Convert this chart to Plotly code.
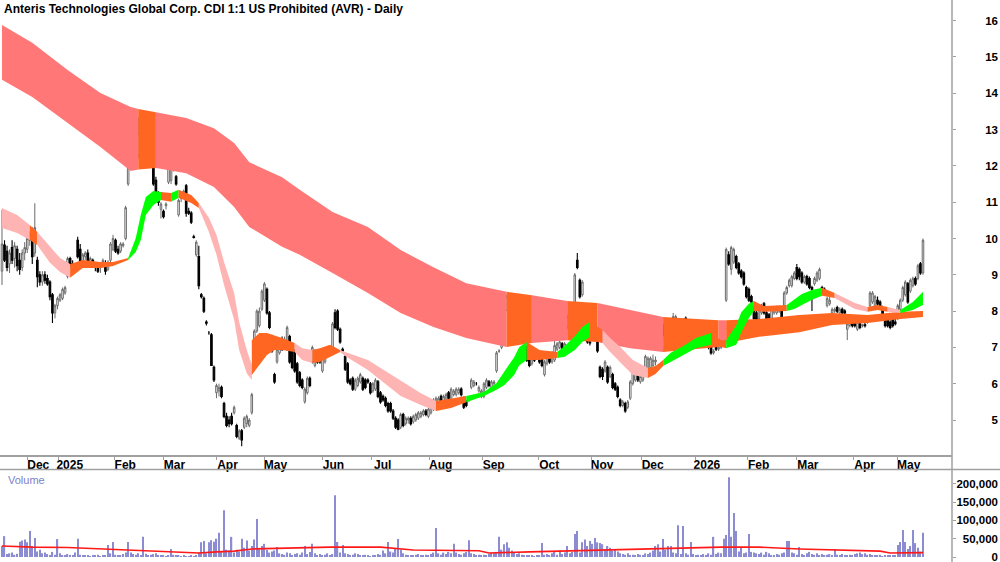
import plotly.graph_objects as go

# ---------------- daily price data (trading-day index 0..365) ----------------
open_ = [
 9.10, 9.82, 9.65, 9.30, 9.75, 9.45, 9.70, 9.40, 9.20, 9.60,
 9.70, 9.95, 10.10, 9.60, 9.40, 9.00, 8.80, 9.00, 8.90, 8.80,
 8.45, 7.95, 8.15, 8.30, 8.35, 8.50, 8.95, 9.45, 9.30, 9.20,
 9.95, 9.70, 9.35, 9.50, 9.60, 9.30, 9.40, 9.30, 9.25, 9.20,
 9.25, 9.30, 9.15, 9.40, 9.70, 9.95, 9.70, 9.65, 9.80, 10.00,
 11.50, 12.90, 12.80, 12.35, 12.30, 12.80, 12.50, 12.80, 12.60, 12.75,
 11.95, 11.60, 11.10, 10.80, 10.75, 10.90, 11.55, 11.60, 12.00, 11.70,
 10.65, 11.10, 11.20, 11.45, 10.75, 10.70, 10.05, 9.55, 9.50, 8.45,
 8.35, 7.70, 7.40, 7.35, 6.45, 5.75, 5.80, 5.90, 5.45, 5.10,
 5.00, 5.10, 5.20, 4.85, 4.50, 4.70, 4.80, 4.90, 4.85, 5.20,
 6.55, 7.45, 7.60, 8.05, 8.30, 8.60, 7.95, 7.30, 6.25, 6.60,
 6.85, 7.15, 7.00, 6.95, 7.30, 7.00, 6.90, 6.55, 6.30, 6.10,
 5.50, 5.75, 6.15, 6.60, 6.50, 6.75, 6.70, 6.35, 6.60, 6.85,
 6.90, 7.00, 7.95, 8.00, 7.50, 6.95, 6.75, 6.55, 6.10, 6.15,
 5.85, 5.95, 6.05, 6.15, 6.10, 6.10, 6.00, 5.80, 5.85, 6.05,
 5.75, 5.65, 5.60, 5.45, 5.45, 5.25, 5.05, 5.00, 4.80, 5.15,
 4.90, 5.00, 5.05, 4.95, 5.00, 5.05, 5.10, 5.15, 5.25, 5.10,
 5.20, 5.30, 5.35, 5.40, 5.65, 5.50, 5.50, 5.75, 5.60, 5.70,
 5.70, 5.75, 5.85, 5.60, 5.50, 5.55, 5.90, 5.95, 6.00, 5.80,
 5.65, 5.65, 5.90, 6.05, 5.90, 6.00, 6.35, 6.90, 7.00, 7.40,
 8.03, 8.10, 8.30, 8.05, 8.35, 8.20, 7.95, 7.55, 7.00, 6.80,
 6.55, 6.85, 6.80, 6.85, 6.75, 6.25, 6.55, 6.80, 6.60, 6.65,
 6.95, 7.00, 7.10, 6.90, 7.55, 7.70, 7.60, 7.95, 9.40, 8.85,
 8.45, 8.10, 7.55, 7.15, 7.60, 7.60, 7.15, 6.45, 6.40, 6.35,
 6.45, 6.20, 6.25, 6.00, 5.90, 5.55, 5.40, 5.45, 5.35, 5.60,
 6.00, 6.10, 6.35, 6.05, 6.10, 6.35, 6.40, 6.45, 6.50, 6.60,
 7.10, 7.70, 7.60, 7.50, 7.25, 7.35, 7.55, 7.60, 7.05, 7.35,
 7.55, 7.80, 7.60, 7.55, 7.65, 7.45, 7.40, 7.25, 7.25, 7.20,
 7.15, 7.00, 6.85, 7.20, 6.95, 7.00, 7.10, 8.30, 9.55, 9.15,
 9.35, 9.50, 9.30, 9.10, 9.05, 8.65, 8.60, 8.40, 8.10, 7.95,
 7.80, 7.95, 8.20, 7.95, 7.90, 7.80, 7.95, 7.95, 8.00, 8.05,
 8.15, 8.50, 8.70, 8.70, 8.90, 9.20, 9.15, 9.05, 8.80, 8.95,
 8.90, 8.65, 8.75, 8.85, 8.90, 8.65, 8.60, 8.15, 8.20, 7.95,
 8.00, 8.10, 7.95, 8.05, 8.00, 7.50, 7.60, 7.75, 7.70, 7.50,
 7.65, 7.60, 7.62, 7.70, 8.15, 8.25, 8.15, 8.30, 8.25, 8.10,
 7.85, 7.75, 7.70, 7.85, 7.70, 7.80, 8.05, 8.30, 8.45, 8.75,
 8.55, 8.70, 8.90, 8.90, 9.30, 9.05]

high = [
 10.79, 9.95, 9.80, 9.70, 9.95, 9.90, 9.80, 9.60, 9.70, 9.90,
 10.10, 10.20, 10.30, 10.97, 9.50, 9.10, 9.10, 9.10, 9.00, 8.85,
 8.50, 8.20, 8.40, 8.50, 8.65, 8.70, 9.50, 9.50, 9.40, 9.30,
 10.05, 9.85, 9.60, 9.65, 9.70, 9.50, 9.45, 9.35, 9.30, 9.35,
 9.45, 9.40, 9.40, 9.90, 10.10, 10.00, 9.80, 9.90, 9.90, 10.90,
 13.20, 13.00, 13.10, 12.50, 13.35, 12.90, 12.70, 12.90, 12.80, 12.85,
 12.00, 11.70, 11.30, 11.00, 10.80, 11.00, 12.15, 12.20, 12.10, 11.75,
 11.10, 11.30, 11.35, 11.50, 10.85, 10.75, 10.10, 9.95, 9.80, 8.50,
 8.40, 7.75, 7.45, 7.40, 6.50, 6.00, 6.00, 5.95, 5.50, 5.20,
 5.10, 5.20, 5.40, 4.90, 4.75, 4.75, 5.10, 5.15, 5.05, 5.75,
 7.50, 8.05, 8.10, 8.60, 8.80, 8.65, 8.00, 7.35, 6.30, 7.00,
 7.20, 7.30, 7.30, 7.60, 7.35, 7.05, 6.95, 6.60, 6.35, 6.15,
 5.90, 6.20, 6.20, 7.05, 6.95, 6.80, 6.75, 6.75, 6.95, 7.00,
 7.05, 7.70, 8.05, 8.05, 7.55, 7.00, 6.80, 6.60, 6.15, 6.20,
 6.15, 6.20, 6.30, 6.20, 6.15, 6.15, 6.05, 6.05, 6.15, 6.10,
 5.80, 5.70, 5.65, 5.50, 5.50, 5.30, 5.10, 5.05, 5.20, 5.20,
 5.10, 5.10, 5.10, 5.15, 5.20, 5.25, 5.25, 5.30, 5.30, 5.35,
 5.40, 5.60, 5.65, 5.65, 5.70, 5.70, 5.75, 5.80, 5.90, 5.85,
 5.90, 5.90, 5.90, 5.65, 5.55, 5.60, 6.15, 6.10, 6.05, 5.95,
 5.85, 6.05, 6.15, 6.10, 6.10, 6.10, 6.90, 6.95, 7.45, 7.70,
 8.45, 8.40, 8.40, 8.35, 8.40, 8.25, 8.00, 7.60, 7.05, 6.85,
 6.75, 6.90, 6.85, 6.90, 6.80, 6.65, 6.85, 6.85, 6.90, 7.35,
 7.15, 7.20, 7.15, 7.15, 7.90, 7.75, 7.65, 9.05, 9.60, 8.90,
 8.85, 8.15, 7.60, 7.20, 8.05, 7.65, 7.20, 6.50, 6.45, 6.65,
 6.50, 6.50, 6.30, 6.05, 5.95, 5.60, 5.55, 5.50, 5.55, 6.10,
 6.35, 6.40, 6.40, 6.25, 6.40, 6.80, 6.75, 6.75, 6.80, 6.75,
 7.65, 7.80, 7.65, 7.60, 7.30, 7.80, 7.95, 7.90, 7.15, 7.80,
 7.80, 7.85, 7.65, 7.75, 7.70, 7.50, 7.45, 7.40, 7.40, 7.25,
 7.20, 7.05, 6.95, 7.25, 7.05, 7.35, 7.40, 9.75, 9.65, 9.80,
 9.75, 9.55, 9.35, 9.15, 9.10, 8.70, 8.65, 8.45, 8.15, 8.00,
 8.10, 8.20, 8.25, 8.00, 7.95, 8.10, 8.10, 8.15, 8.15, 8.10,
 8.55, 8.70, 8.90, 9.00, 9.10, 9.30, 9.20, 9.10, 9.00, 9.00,
 8.95, 8.70, 8.95, 9.10, 9.20, 8.70, 8.65, 8.40, 8.45, 8.10,
 8.10, 8.15, 8.10, 8.10, 8.05, 7.70, 7.80, 7.80, 7.75, 7.75,
 7.70, 7.65, 7.68, 7.85, 8.55, 8.55, 8.45, 8.40, 8.30, 8.15,
 7.90, 7.80, 7.75, 7.90, 7.80, 8.20, 8.35, 8.70, 8.85, 8.80,
 8.90, 8.95, 8.95, 9.30, 9.35, 10.00]

low = [
 8.72, 9.35, 9.10, 9.05, 9.30, 9.20, 9.10, 9.00, 9.10, 9.40,
 9.60, 9.80, 9.30, 9.50, 8.66, 8.70, 8.70, 8.75, 8.70, 8.30,
 7.67, 7.80, 8.05, 8.25, 8.30, 8.45, 8.90, 9.20, 9.10, 9.05,
 9.45, 9.30, 9.30, 9.40, 9.20, 9.25, 9.20, 9.10, 9.05, 9.05,
 9.20, 9.00, 9.10, 9.35, 9.65, 9.60, 9.55, 9.60, 9.75, 9.95,
 11.45, 12.60, 12.30, 11.90, 12.20, 12.40, 12.40, 12.50, 12.50, 12.50,
 11.45, 11.05, 10.90, 10.55, 10.55, 10.80, 11.50, 11.50, 11.85, 11.45,
 10.60, 11.00, 11.10, 10.60, 10.65, 10.40, 10.00, 9.50, 8.60, 8.35,
 7.95, 7.60, 7.35, 6.50, 6.05, 5.60, 5.65, 5.60, 5.05, 4.80,
 4.80, 4.85, 5.15, 4.50, 4.45, 4.28, 4.75, 4.80, 4.80, 5.15,
 6.50, 7.40, 7.55, 8.00, 8.25, 7.90, 7.50, 6.85, 6.00, 6.55,
 6.80, 6.90, 6.95, 6.90, 6.55, 6.40, 6.30, 6.00, 5.90, 5.85,
 5.45, 5.70, 5.90, 6.55, 6.45, 6.55, 6.55, 6.30, 6.55, 6.80,
 6.85, 6.95, 7.50, 7.45, 7.10, 6.85, 6.35, 6.00, 5.95, 5.80,
 5.80, 5.90, 6.00, 5.80, 5.85, 6.00, 5.70, 5.75, 5.80, 5.60,
 5.45, 5.50, 5.35, 5.20, 5.20, 5.00, 4.75, 4.72, 4.75, 4.80,
 4.85, 4.90, 4.85, 4.90, 4.95, 5.00, 5.05, 5.10, 5.10, 5.05,
 5.15, 5.25, 5.30, 5.35, 5.45, 5.45, 5.45, 5.55, 5.55, 5.65,
 5.65, 5.70, 5.65, 5.30, 5.35, 5.50, 5.85, 5.90, 5.95, 5.75,
 5.60, 5.60, 5.85, 5.90, 5.85, 5.90, 6.30, 6.85, 6.95, 7.30,
 8.00, 8.00, 8.00, 8.00, 8.05, 7.90, 7.70, 7.10, 6.60, 6.45,
 6.50, 6.60, 6.65, 6.55, 6.45, 6.20, 6.50, 6.55, 6.55, 6.60,
 6.90, 6.95, 6.90, 6.85, 7.50, 7.45, 7.15, 7.90, 9.15, 8.35,
 8.40, 7.45, 7.10, 7.05, 7.55, 7.20, 6.85, 6.15, 6.10, 6.30,
 6.00, 6.15, 5.85, 5.80, 5.60, 5.35, 5.35, 5.20, 5.30, 5.55,
 5.95, 6.05, 6.05, 6.00, 6.05, 6.30, 6.35, 6.40, 6.45, 6.50,
 7.05, 7.30, 7.30, 7.15, 6.90, 7.30, 7.50, 7.55, 7.00, 7.30,
 7.50, 7.35, 7.30, 7.50, 7.35, 7.20, 7.20, 7.20, 7.20, 7.00,
 6.95, 6.80, 6.80, 6.90, 6.90, 6.95, 7.05, 8.25, 9.25, 9.00,
 9.30, 9.15, 9.00, 8.90, 8.70, 8.35, 8.25, 8.20, 7.75, 7.35,
 7.75, 7.90, 7.90, 7.70, 7.75, 7.75, 7.90, 7.90, 7.95, 7.40,
 8.10, 8.45, 8.65, 8.65, 8.85, 8.85, 8.85, 8.75, 8.75, 8.70,
 8.60, 8.00, 8.70, 8.80, 8.85, 8.45, 8.50, 8.10, 8.15, 7.90,
 7.95, 7.95, 7.90, 7.90, 7.90, 7.20, 7.55, 7.55, 7.55, 7.45,
 7.50, 7.55, 7.55, 7.65, 8.10, 8.20, 8.10, 8.15, 8.05, 7.80,
 7.55, 7.55, 7.50, 7.55, 7.60, 7.75, 8.00, 8.25, 8.40, 8.20,
 8.50, 8.65, 8.70, 8.85, 9.00, 9.00]

close = [
 9.85, 9.40, 9.20, 9.60, 9.40, 9.80, 9.25, 9.15, 9.60, 9.75,
 10.00, 10.10, 9.50, 10.30, 8.95, 8.80, 9.00, 8.85, 8.75, 8.40,
 7.95, 8.15, 8.35, 8.45, 8.60, 8.65, 9.45, 9.30, 9.15, 9.10,
 9.50, 9.35, 9.55, 9.60, 9.25, 9.45, 9.25, 9.20, 9.10, 9.30,
 9.40, 9.10, 9.35, 9.85, 10.00, 9.65, 9.60, 9.85, 9.85, 10.85,
 12.90, 12.70, 12.40, 12.00, 12.90, 12.50, 12.60, 12.55, 12.75, 12.60,
 11.50, 11.10, 11.00, 10.95, 10.60, 10.95, 12.05, 12.10, 11.90, 11.50,
 11.05, 11.25, 11.30, 10.70, 10.70, 10.45, 10.03, 9.90, 8.70, 8.40,
 8.00, 7.67, 7.40, 6.50, 6.10, 5.95, 5.90, 5.65, 5.10, 4.85,
 4.90, 4.90, 5.35, 4.55, 4.70, 4.45, 5.05, 5.10, 5.00, 5.70,
 7.45, 8.00, 8.00, 8.55, 8.75, 7.95, 7.55, 6.90, 6.05, 6.95,
 7.15, 7.00, 7.20, 7.55, 6.60, 6.45, 6.35, 6.05, 5.95, 5.90,
 5.85, 6.15, 5.95, 7.00, 6.90, 6.60, 6.60, 6.70, 6.90, 6.95,
 7.00, 7.65, 7.55, 7.50, 7.15, 6.90, 6.40, 6.05, 6.00, 5.85,
 6.10, 6.15, 6.25, 5.85, 5.90, 6.05, 5.75, 6.00, 6.10, 5.65,
 5.50, 5.55, 5.40, 5.25, 5.25, 5.05, 4.80, 4.75, 5.15, 4.85,
 5.05, 5.05, 4.90, 5.10, 5.15, 5.20, 5.20, 5.25, 5.15, 5.30,
 5.35, 5.55, 5.60, 5.60, 5.50, 5.65, 5.70, 5.60, 5.85, 5.80,
 5.85, 5.85, 5.70, 5.35, 5.40, 5.55, 6.10, 6.05, 6.00, 5.90,
 5.80, 6.00, 6.10, 5.95, 6.05, 6.05, 6.85, 6.90, 7.40, 7.60,
 8.39, 8.30, 8.05, 8.30, 8.10, 7.95, 7.75, 7.15, 6.65, 6.50,
 6.70, 6.65, 6.70, 6.60, 6.50, 6.60, 6.80, 6.60, 6.85, 7.05,
 7.10, 7.15, 6.95, 7.10, 7.85, 7.50, 7.20, 9.00, 9.20, 8.40,
 8.80, 7.50, 7.15, 7.12, 8.00, 7.25, 6.90, 6.20, 6.20, 6.60,
 6.05, 6.45, 5.90, 5.85, 5.65, 5.40, 5.50, 5.25, 5.50, 6.05,
 6.30, 6.35, 6.10, 6.20, 6.35, 6.75, 6.70, 6.70, 6.65, 6.65,
 7.60, 7.35, 7.35, 7.20, 6.95, 7.75, 7.85, 7.85, 7.10, 7.75,
 7.70, 7.40, 7.35, 7.70, 7.40, 7.25, 7.25, 7.35, 7.30, 7.05,
 7.00, 6.85, 6.90, 6.95, 7.00, 7.30, 7.35, 9.70, 9.30, 9.75,
 9.70, 9.20, 9.05, 8.95, 8.75, 8.40, 8.30, 8.25, 7.80, 7.55,
 8.05, 8.15, 7.95, 7.75, 7.80, 8.05, 8.05, 8.10, 8.10, 7.80,
 8.50, 8.65, 8.85, 8.95, 9.05, 8.90, 8.95, 8.80, 8.95, 8.75,
 8.65, 8.60, 8.90, 9.05, 9.15, 8.50, 8.55, 8.35, 8.30, 8.05,
 8.05, 8.00, 8.05, 7.95, 7.95, 7.65, 7.75, 7.60, 7.60, 7.70,
 7.55, 7.62, 7.60, 7.80, 8.50, 8.50, 8.40, 8.20, 8.10, 7.85,
 7.60, 7.60, 7.55, 7.60, 7.65, 8.15, 8.30, 8.65, 8.80, 8.25,
 8.85, 8.90, 8.75, 9.25, 9.05, 9.95]

# volume in thousands of shares
volume_k = [
 30, 57, 8, 10, 12, 6, 9, 42, 45, 48,
 40, 71, 30, 52, 15, 20, 10, 12, 8, 5,
 14, 6, 49, 10, 4, 3, 8, 5, 3, 12,
 50, 6, 4, 3, 5, 2, 4, 3, 6, 2,
 3, 5, 33, 10, 41, 6, 4, 3, 8, 12,
 41, 12, 8, 6, 10, 4, 55, 9, 5, 6,
 8, 10, 4, 3, 5, 2, 3, 22, 6, 3,
 4, 2, 3, 1, 2, 3, 2, 5, 12, 40,
 44, 10, 40, 46, 42, 50, 66, 14, 128, 20,
 18, 55, 12, 20, 15, 50, 25, 45, 18, 30,
 48, 104, 22, 30, 36, 20, 12, 15, 18, 27,
 10, 8, 6, 12, 10, 5, 8, 10, 6, 12,
 30, 8, 14, 36, 10, 5, 8, 4, 6, 10,
 5, 8, 169, 41, 12, 33, 10, 8, 5, 6,
 10, 8, 4, 3, 6, 5, 2, 4, 5, 8,
 6, 18, 10, 41, 15, 12, 22, 49, 20, 10,
 6, 4, 5, 3, 6, 8, 5, 4, 6, 3,
 8, 12, 79, 10, 6, 12, 8, 14, 10, 36,
 12, 8, 6, 10, 14, 46, 10, 8, 5, 6,
 4, 6, 5, 8, 12, 10, 14, 55, 20, 35,
 40, 25, 18, 12, 8, 10, 6, 4, 5, 3,
 4, 2, 5, 3, 38, 6, 8, 4, 10, 14,
 6, 18, 8, 12, 30, 10, 14, 63, 71, 12,
 40, 48, 30, 44, 36, 52, 40, 38, 35, 22,
 30, 25, 18, 20, 15, 10, 8, 6, 10, 5,
 6, 4, 8, 6, 5, 10, 8, 12, 18, 30,
 35, 15, 49, 20, 30, 30, 12, 10, 87, 8,
 85, 10, 6, 41, 8, 5, 6, 4, 8, 3,
 10, 6, 55, 8, 12, 10, 50, 60, 218, 55,
 120, 71, 15, 25, 10, 12, 63, 14, 12, 10,
 8, 12, 6, 14, 10, 5, 4, 8, 6, 10,
 12, 44, 44, 12, 10, 6, 27, 8, 5, 10,
 14, 8, 6, 10, 5, 8, 4, 6, 8, 5,
 22, 6, 4, 8, 5, 3, 6, 4, 8, 10,
 12, 8, 10, 6, 8, 5, 4, 3, 6, 2,
 3, 4, 5, 3, 4, 33, 41, 74, 41, 22,
 30, 74, 38, 25, 15, 66]

# volume moving-average line (read at knots, thousands)
vma_idx = [0, 12, 26, 39, 52, 65, 73, 78, 85, 92, 99, 118, 130, 150, 163, 189, 193, 209, 222, 236, 261, 285, 300, 316, 348, 352, 365]
vma_k = [30, 27, 26, 22, 17, 14, 11, 11, 14, 16, 22, 25, 27, 27, 19, 17, 11, 14, 16, 19, 22, 27, 27, 22, 16, 11, 12]

# long-term ribbon (upper, lower) at knots; colour code of the segment that starts at each knot
long_idx = [0, 12, 26, 39, 51, 54, 61, 73, 84, 92, 98, 111, 118, 131, 145, 158, 171, 184, 200, 210, 224, 236, 249, 262, 284, 287, 300, 316, 329, 343, 356, 365]
long_top = [15.88, 15.39, 14.64, 14.01, 13.62, 13.57, 13.48, 13.32, 13.04, 12.63, 12.10, 11.69, 11.34, 10.73, 10.32, 9.68, 9.21, 8.77, 8.53, 8.44, 8.28, 8.22, 8.03, 7.84, 7.75, 7.75, 7.78, 7.89, 7.95, 7.89, 7.98, 8.00]
long_bot = [14.37, 13.90, 13.18, 12.52, 11.86, 11.90, 11.94, 11.80, 11.42, 10.87, 10.32, 9.77, 9.55, 9.05, 8.50, 7.95, 7.56, 7.26, 7.01, 7.12, 7.20, 7.15, 6.98, 6.87, 7.01, 7.12, 7.29, 7.42, 7.62, 7.67, 7.78, 7.84]
long_col = ['R', 'R', 'R', 'R', 'R', 'O', 'R', 'R', 'R', 'R', 'R', 'R', 'R', 'R', 'R', 'R', 'R', 'R', 'O', 'R', 'O', 'R', 'R', 'O', 'R', 'O', 'O', 'O', 'O', 'O', 'O', 'O']

# short-term ribbon
short_idx = [0, 6, 11, 14, 19, 23, 27, 32, 39, 44, 50, 53, 55, 57, 60, 63, 67, 70, 75, 78, 82, 85, 88, 92, 94, 97, 99, 99, 102, 105, 108, 111, 116, 119, 123, 126, 130, 134, 136, 145, 158, 166, 172, 178, 184, 191, 196, 199, 203, 205, 208, 213, 220, 223, 227, 230, 233, 235, 238, 241, 245, 250, 256, 259, 262, 265, 270, 275, 281, 285, 287, 291, 293, 296, 298, 302, 311, 314, 317, 321, 325, 330, 334, 338, 343, 347, 351, 356, 358, 361, 363, 365]
short_top = [10.84, 10.65, 10.37, 10.18, 9.77, 9.46, 9.30, 9.41, 9.35, 9.35, 9.46, 10.01, 10.65, 11.14, 11.31, 11.28, 11.25, 11.34, 11.20, 10.98, 10.57, 10.10, 9.35, 8.50, 7.70, 6.93, 6.52, 7.20, 7.40, 7.40, 7.34, 7.26, 7.12, 6.98, 6.93, 6.98, 7.07, 6.93, 6.87, 6.65, 6.10, 5.74, 5.52, 5.58, 5.66, 5.77, 6.02, 6.32, 6.73, 7.01, 7.15, 6.93, 6.87, 7.04, 7.31, 7.56, 7.70, 7.62, 7.48, 7.26, 7.01, 6.65, 6.43, 6.49, 6.65, 6.85, 7.04, 7.26, 7.40, 7.20, 7.20, 7.61, 7.97, 8.20, 8.28, 8.14, 8.17, 8.31, 8.47, 8.58, 8.64, 8.50, 8.36, 8.22, 8.11, 8.17, 8.11, 8.03, 8.11, 8.25, 8.39, 8.53]
short_bot = [10.29, 10.15, 9.96, 9.82, 9.33, 9.08, 8.92, 9.19, 9.19, 9.24, 9.41, 9.63, 9.96, 10.65, 10.92, 11.06, 11.01, 11.12, 10.98, 10.84, 10.18, 9.55, 8.72, 7.76, 6.93, 6.29, 6.10, 6.24, 6.52, 6.79, 6.93, 6.93, 6.87, 6.65, 6.57, 6.60, 6.74, 6.87, 6.76, 6.38, 5.66, 5.41, 5.25, 5.33, 5.49, 5.66, 5.83, 5.96, 6.24, 6.51, 6.65, 6.65, 6.71, 6.74, 6.93, 7.15, 7.29, 7.20, 7.12, 6.87, 6.60, 6.24, 6.16, 6.27, 6.49, 6.60, 6.79, 6.98, 7.07, 7.01, 6.98, 7.07, 7.42, 7.81, 8.00, 7.98, 8.00, 8.06, 8.17, 8.31, 8.42, 8.36, 8.20, 8.06, 7.98, 8.03, 7.98, 7.95, 7.98, 8.03, 8.11, 8.17]
short_col = ['P', 'P', 'O', 'P', 'P', 'P', 'O', 'O', 'O', 'O', 'G', 'G', 'G', 'G', 'G', 'O', 'G', 'O', 'O', 'P', 'P', 'P', 'P', 'P', 'P', 'P', 'P', 'O', 'O', 'O', 'O', 'O', 'P', 'P', 'O', 'O', 'O', 'P', 'P', 'P', 'P', 'P', 'O', 'O', 'G', 'G', 'G', 'G', 'G', 'G', 'O', 'O', 'G', 'G', 'G', 'G', 'O', 'O', 'P', 'P', 'P', 'P', 'O', 'O', 'G', 'G', 'G', 'G', 'O', 'O', 'G', 'G', 'G', 'G', 'O', 'O', 'G', 'G', 'G', 'G', 'O', 'P', 'P', 'P', 'O', 'O', 'P', 'G', 'G', 'G', 'G', 'G']

# x-axis month ticks (trading-day index) and labels
month_tick_idx = [10, 22.5, 44.5, 64, 85, 104, 127, 146.5, 169.5, 190.5, 212.5, 233.5, 253.5, 275, 295.5, 315, 337.5, 355]
month_labels = ['Dec', '2025', 'Feb', 'Mar', 'Apr', 'May', 'Jun', 'Jul', 'Aug', 'Sep', 'Oct', 'Nov', 'Dec', '2026', 'Feb', 'Mar', 'Apr', 'May']

price_ticks = [5, 6, 7, 8, 9, 10, 11, 12, 13, 14, 15, 16]
vol_ticks = [0, 50000, 100000, 150000, 200000]
vol_tick_text = ['0', '50,000', '100,000', '150,000', '200,000']

TITLE = 'Anteris Technologies Global Corp. CDI 1:1 US Prohibited (AVR) - Daily'

# ---------------------------------------------------------------------------
n = len(close)
assert len(open_) == n and len(high) == n and len(low) == n and len(volume_k) == n
assert len(long_idx) == len(long_top) == len(long_bot) == len(long_col)
assert len(short_idx) == len(short_top) == len(short_bot) == len(short_col)
days = list(range(n))

COL = {'R': '#FF7777', 'O': '#FF6622', 'P': '#FFB4B4', 'G': '#00FF00'}
FONT = 'Liberation Sans, Arial, sans-serif'
AXC = '#A0A0A0'

fig = go.Figure()


def add_ribbon(k_idx, k_top, k_bot, k_col):
    m = len(k_idx)
    s = 0
    while s < m - 1:
        e = s + 1
        while e < m - 1 and k_col[e] == k_col[s]:
            e += 1
        xs = k_idx[s:e + 1] + k_idx[s:e + 1][::-1]
        ys = k_top[s:e + 1] + k_bot[s:e + 1][::-1]
        fig.add_trace(go.Scatter(x=xs, y=ys, fill='toself', fillcolor=COL[k_col[s]],
                                 mode='lines', line=dict(width=0), hoverinfo='skip',
                                 showlegend=False, xaxis='x', yaxis='y'))
        s = e


add_ribbon(long_idx, long_top, long_bot, long_col)
add_ribbon(short_idx, short_top, short_bot, short_col)

fig.add_trace(go.Candlestick(
    x=days, open=open_, high=high, low=low, close=close,
    increasing=dict(fillcolor='white', line=dict(color='#6A6A6A', width=1)),
    decreasing=dict(fillcolor='black', line=dict(color='black', width=1.1)),
    whiskerwidth=0, showlegend=False, hoverinfo='skip', xaxis='x', yaxis='y'))

fig.add_trace(go.Bar(x=days, y=[v * 1000 for v in volume_k], width=0.5,
                     marker=dict(color='#8C8CD2', line=dict(width=0)),
                     showlegend=False, hoverinfo='skip', xaxis='x2', yaxis='y2'))
fig.add_trace(go.Scatter(x=vma_idx, y=[v * 1000 for v in vma_k], mode='lines',
                         line=dict(color='#FF1A1A', width=1.6), showlegend=False,
                         hoverinfo='skip', xaxis='x2', yaxis='y2'))

# invisible anchors for the label-only axes
fig.add_trace(go.Scatter(x=[0], y=[10], mode='markers', marker=dict(opacity=0),
                         showlegend=False, hoverinfo='skip', xaxis='x', yaxis='y3'))
fig.add_trace(go.Scatter(x=[0], y=[0], mode='markers', marker=dict(opacity=0),
                         showlegend=False, hoverinfo='skip', xaxis='x2', yaxis='y4'))

XR = [-0.79, 376.5]
PR = [4.036, 16.57]
VR = [-13660, 237700]
PDOM = [0.1904, 1.0]
VDOM = [0.0, 0.1637]

fig.update_layout(
    width=1000, height=562, margin=dict(l=0, r=0, t=0, b=0),
    paper_bgcolor='white', plot_bgcolor='white', hovermode=False,
    boxgap=0.12,
    font=dict(family=FONT, color='black'),
    xaxis=dict(domain=[0, 0.952], range=XR, anchor='y', tickmode='array',
               tickvals=month_tick_idx, ticktext=['<b>' + t + '</b>' for t in month_labels],
               ticks='outside', ticklen=3, tickcolor=AXC, showline=True, linecolor=AXC,
               linewidth=1.5, showgrid=False, zeroline=False, ticklabelshift=11,
               ticklabelstandoff=-5,
               tickfont=dict(size=12, family=FONT),
               rangeslider=dict(visible=False), fixedrange=True),
    yaxis=dict(domain=PDOM, range=PR, anchor='x', side='right', tickmode='array',
               tickvals=price_ticks, showticklabels=False, ticks='outside', ticklen=3,
               tickcolor=AXC, showline=False, showgrid=False, zeroline=False, fixedrange=True),
    yaxis3=dict(overlaying='y', range=PR, anchor='free', position=0.998, side='left',
                tickmode='array', tickvals=price_ticks,
                ticktext=['<b>' + str(t) + '</b>' for t in price_ticks],
                ticks='', showline=False, showgrid=False, zeroline=False,
                ticklabeloverflow='allow',
                tickfont=dict(size=11.5, family=FONT, color='black'), fixedrange=True),
    xaxis2=dict(domain=[0, 0.952], range=XR, anchor='y2', matches='x', showticklabels=False,
                ticks='', showline=False, showgrid=False, zeroline=False, fixedrange=True),
    yaxis2=dict(domain=VDOM, range=VR, anchor='x2', side='right', tickmode='array',
                tickvals=vol_ticks, showticklabels=False, ticks='outside', ticklen=3,
                tickcolor=AXC, showline=False, showgrid=False, zeroline=False, fixedrange=True),
    yaxis4=dict(overlaying='y2', range=VR, anchor='free', position=0.998, side='left',
                tickmode='array', tickvals=vol_ticks,
                ticktext=['<b>' + t + '</b>' for t in vol_tick_text],
                ticks='', showline=False, showgrid=False, zeroline=False,
                ticklabeloverflow='allow',
                tickfont=dict(size=11.5, family=FONT, color='black'), fixedrange=True),
    shapes=[
        dict(type='line', xref='paper', yref='paper', x0=0.952, x1=0.952, y0=0, y1=1,
             line=dict(color=AXC, width=1.5)),
        dict(type='line', xref='paper', yref='paper', x0=0, x1=1, y0=VDOM[1] + 0.001, y1=VDOM[1] + 0.001,
             line=dict(color=AXC, width=1.5)),
    ],
    annotations=[
        dict(text='<b>' + TITLE + '</b>', xref='paper', yref='paper', x=0.002, y=1.0,
             xanchor='left', yanchor='top', showarrow=False, font=dict(size=12, family=FONT)),
        dict(text='Volume', xref='paper', yref='paper', x=0.006, y=VDOM[1] - 0.003,
             xanchor='left', yanchor='top', showarrow=False,
             font=dict(size=11, family=FONT, color='#8080C8')),
    ],
)

fig.write_html('out.html')
